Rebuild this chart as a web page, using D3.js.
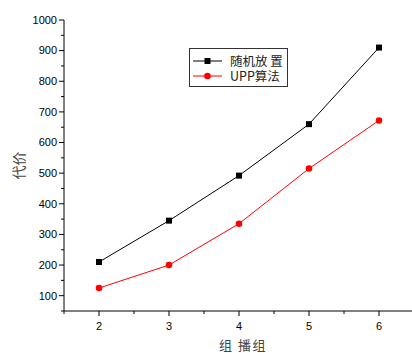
<!DOCTYPE html>
<html>
<head>
<meta charset="utf-8">
<script src="https://cdn.jsdelivr.net/npm/d3@7"></script>
<style>
  body { margin: 0; background: #fff; }
  text { font-family: "Liberation Sans", Arial, sans-serif; }
</style>
</head>
<body>
<svg id="chart" width="412" height="353"></svg>
<script>
const groups = [2, 3, 4, 5, 6];
const randomCost = [210, 345, 492, 660, 910];
const uppCost = [125, 200, 335, 515, 672];
const yTicks = [100, 200, 300, 400, 500, 600, 700, 800, 900, 1000];
const seriesNames = ["随机放 置", "UPP算法"];

const svg = d3.select("#chart");
const x = d3.scaleLinear().domain([1.5, 6.5]).range([64, 414]);
const y = d3.scaleLinear().domain([50, 1000]).range([311, 20]);

// y axis
const yAxis = svg.append("g").attr("transform", "translate(64,0)");
yAxis.append("line").attr("y1", y(50)).attr("y2", y(1000)).attr("stroke", "#000");
yAxis.selectAll(".minor").data(d3.range(50, 1001, 100)).join("line")
  .attr("x1", -3).attr("x2", 0).attr("y1", d => y(d)).attr("y2", d => y(d)).attr("stroke", "#000");
yAxis.selectAll(".major").data(yTicks).join("line")
  .attr("x1", -5).attr("x2", 0).attr("y1", d => y(d)).attr("y2", d => y(d)).attr("stroke", "#000");
yAxis.selectAll("text").data(yTicks).join("text")
  .attr("x", -7).attr("y", d => y(d)).attr("dy", "0.35em")
  .attr("text-anchor", "end").attr("font-size", 11).text(d => d);

// x axis
const xAxis = svg.append("g").attr("transform", `translate(0,${y(50)})`);
xAxis.append("line").attr("x1", x(1.5)).attr("x2", x(6.5)).attr("stroke", "#000");
xAxis.selectAll(".minor").data(d3.range(1.5, 6.6, 1)).join("line")
  .attr("x1", d => x(d)).attr("x2", d => x(d)).attr("y1", 0).attr("y2", 3).attr("stroke", "#000");
xAxis.selectAll(".major").data(groups).join("line")
  .attr("x1", d => x(d)).attr("x2", d => x(d)).attr("y1", 0).attr("y2", 5).attr("stroke", "#000");
xAxis.selectAll("text").data(groups).join("text")
  .attr("x", d => x(d)).attr("y", 19)
  .attr("text-anchor", "middle").attr("font-size", 11).text(d => d);

// axis titles
svg.append("text").attr("transform", `translate(24,${y(525)}) rotate(-90)`)
  .attr("text-anchor", "middle").attr("font-size", 14).attr("fill", "#444")
  .style("font-family", "'Noto Sans CJK SC', sans-serif").text("代价");
svg.append("text").attr("x", 243).attr("y", 350)
  .attr("text-anchor", "middle").attr("font-size", 13).attr("fill", "#444")
  .attr("letter-spacing", 1.5)
  .style("font-family", "'Noto Sans CJK SC', sans-serif").text("组 播组");

// series
const line = d3.line().x(d => x(d[0])).y(d => y(d[1]));
const black = groups.map((g, i) => [g, randomCost[i]]);
const red = groups.map((g, i) => [g, uppCost[i]]);

svg.append("path").datum(black).attr("d", line).attr("fill", "none").attr("stroke", "#000").attr("stroke-width", 1);
svg.selectAll(".sq").data(black).join("rect")
  .attr("x", d => x(d[0]) - 3).attr("y", d => y(d[1]) - 3)
  .attr("width", 6).attr("height", 6).attr("fill", "#000");

svg.append("path").datum(red).attr("d", line).attr("fill", "none").attr("stroke", "#f00").attr("stroke-width", 1);
svg.selectAll(".dot").data(red).join("circle")
  .attr("cx", d => x(d[0])).attr("cy", d => y(d[1])).attr("r", 3.3).attr("fill", "#f00");

// legend
const lg = svg.append("g");
lg.append("rect").attr("x", 189.5).attr("y", 48.5).attr("width", 98).attr("height", 38)
  .attr("fill", "#fff").attr("stroke", "#333").attr("stroke-width", 1);
const rows = [
  { name: seriesNames[0], color: "#000", shape: "sq", yy: 61 },
  { name: seriesNames[1], color: "#f00", shape: "dot", yy: 76 }
];
rows.forEach(r => {
  lg.append("line").attr("x1", 193).attr("x2", 222).attr("y1", r.yy).attr("y2", r.yy).attr("stroke", r.color);
  if (r.shape === "sq") {
    lg.append("rect").attr("x", 204.5).attr("y", r.yy - 3).attr("width", 6).attr("height", 6).attr("fill", r.color);
  } else {
    lg.append("circle").attr("cx", 207.5).attr("cy", r.yy).attr("r", 3.3).attr("fill", r.color);
  }
  lg.append("text").attr("x", 230).attr("y", r.yy).attr("dy", "0.36em")
    .attr("font-size", 12.5).attr("fill", "#222")
    .style("font-family", "'Noto Sans CJK SC', sans-serif").text(r.name);
});
</script>
</body>
</html>
